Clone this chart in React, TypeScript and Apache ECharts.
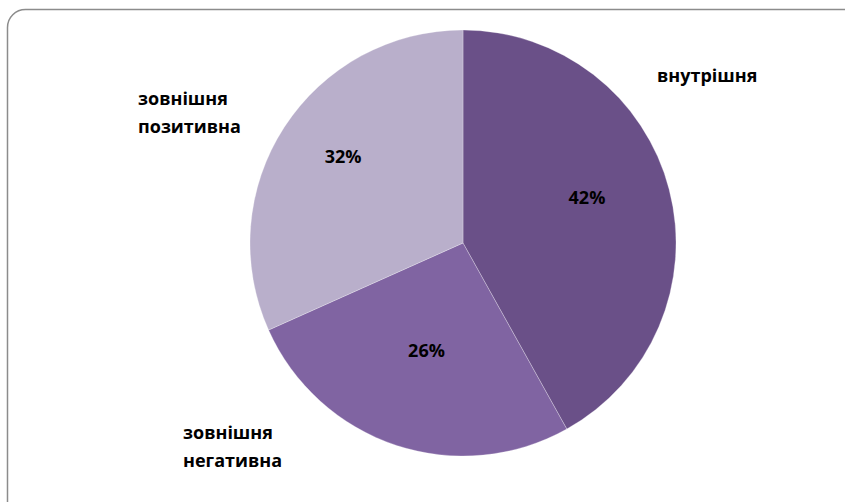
import React, { useEffect, useRef } from "react";
import * as echarts from "echarts";

const categories = ["внутрішня", "зовнішня негативна", "зовнішня позитивна"];
const categoryLabels = ["внутрішня", "зовнішня\nнегативна", "зовнішня\nпозитивна"];
const values = [41.9, 26.4, 31.7];
const colors = ["#6A5088", "#8064A2", "#B9AFCB"];

// label placement (layout only)
const pctOffsets = [
  [18, -18],
  [-2, 3],
  [-28, -27],
];
const nameAnchors = [
  [657, 75],
  [183, 446],
  [138, 112],
];

const FONT = "'Open Sans', 'Noto Sans', sans-serif";

export default function App() {
  const ref = useRef<HTMLDivElement>(null);

  useEffect(() => {
    if (!ref.current) return;
    const chart = echarts.init(ref.current, undefined, { renderer: "svg" });

    const pctData = categories.map((name, i) => ({
      name,
      value: values[i],
      itemStyle: { color: colors[i] },
      label: { offset: pctOffsets[i] },
    }));
    const nameData = categories.map((name, i) => ({
      name,
      value: values[i],
    }));

    chart.setOption({
      animation: false,
      backgroundColor: "#ffffff",
      graphic: [
        {
          type: "rect",
          silent: true,
          z: -10,
          shape: { x: 7.5, y: 9.5, width: 900, height: 600, r: 18 },
          style: { fill: "none", stroke: "#8c8c8c", lineWidth: 1.5 },
        },
      ],
      series: [
        {
          type: "pie",
          center: [463, 243],
          radius: [0, 213],
          startAngle: 90,
          clockwise: true,
          avoidLabelOverlap: false,
          silent: true,
          itemStyle: { borderColor: "rgba(255,255,255,0.45)", borderWidth: 0.6 },
          label: {
            show: true,
            position: "inside",
            formatter: (p: any) => Math.round(p.value) + "%",
            color: "#000",
            fontFamily: FONT,
            fontWeight: "bold",
            fontSize: 18,
          },
          labelLine: { show: false },
          data: pctData,
        },
        {
          type: "pie",
          center: [463, 243],
          radius: [0, 213],
          startAngle: 90,
          clockwise: true,
          avoidLabelOverlap: false,
          silent: true,
          itemStyle: { color: "rgba(0,0,0,0)" },
          label: {
            show: true,
            position: "inside",
            formatter: (p: any) => categoryLabels[p.dataIndex],
            color: "#000",
            fontFamily: FONT,
            fontWeight: "bold",
            fontSize: 18,
            lineHeight: 28,
          },
          labelLine: { show: false },
          labelLayout: (p: any) => {
            const a = nameAnchors[p.dataIndex];
            return { x: a[0], y: a[1], align: "left", verticalAlign: "middle" };
          },
          data: nameData,
        },
      ],
    });

    return () => chart.dispose();
  }, []);

  return (
    <div
      ref={ref}
      style={{ position: "fixed", left: 0, top: 0, width: 845, height: 502, background: "#fff" }}
    />
  );
}
